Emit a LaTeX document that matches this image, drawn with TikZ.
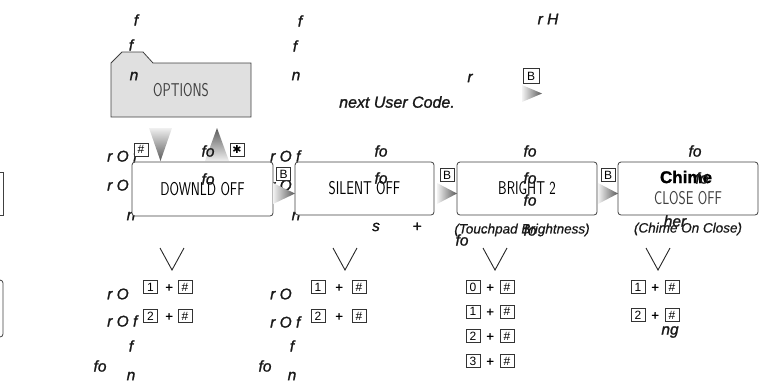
\documentclass[tikz,border=0pt]{standalone}
\usepackage{fontspec}
\setmainfont{Liberation Sans}
\newfontfamily\fragfont[FakeBold=1.3]{Liberation Sans}
\newfontfamily\notefont[FakeBold=0.6]{Liberation Sans}
\newfontfamily\symfont{DejaVu Sans}
\begin{document}
\begin{tikzpicture}[x=1pt,y=-1pt,
  frag/.style={font=\fragfont\itshape\fontsize{15.5}{15.5}\selectfont, inner sep=0pt, text=black!90},
  note/.style={font=\notefont\itshape\fontsize{13.5}{13.5}\selectfont, inner sep=0pt, text=black!90},
  lcdbox/.style={draw=black!75, fill=white, rounded corners=3pt, line width=0.8pt, minimum width=140pt, minimum height=53pt, inner sep=0pt},
  keybox/.style={draw=black!80, fill=white, line width=0.6pt, minimum width=14pt, minimum height=13pt, inner sep=0pt, font=\fontsize{12}{12}\selectfont},
  lcd/.style={inner sep=0pt, text=black!75},
  plus/.style={inner sep=0pt, font=\fragfont\itshape\fontsize{13}{13}\selectfont},
  chev/.style={line width=0.9pt, black!85}
]
\useasboundingbox (0,0) rectangle (760,384);
\newcommand{\lcdtext}[1]{\scalebox{0.74}[1]{\sffamily\fontsize{18.5}{18.5}\selectfont #1}}

% partial boxes at the left edge
\draw[black!75, line width=0.8pt] (-10,172) -- (3,172) -- (3,215) -- (-10,215);
\draw[black!75, line width=0.8pt, rounded corners=3pt] (-10,280) -- (3,280) -- (3,337) -- (-10,337);

% background fragments (behind boxes)
\node[frag] (f1) at (136,20) {f};
\node[frag] (c2f1) at (300,21) {f};
\node[frag] (c2f2) at (295,46) {f};
\node[frag] (c2n) at (296,76) {n};
\node[frag] (rr) at (470,78) {r};
\node[frag, font=\fragfont\itshape\fontsize{16}{16}\selectfont] (nuc) at (397,102) {next User Code.};
\node[frag] (rh) at (548,19) {r H};

\node[frag, anchor=west] (r1a) at (107,156) {r O f};
\node[frag, anchor=west] (r1b) at (107,185) {r O f};
\node[frag] (n1) at (131,216) {n};
\node[frag, anchor=west] (r2a) at (270,156) {r O f};
\node[frag, anchor=west] (r2b) at (270,185) {r O f};
\node[frag] (n2) at (296,216) {n};

% folder
\draw[fill=black!12, draw=black!75, line width=0.8pt] (111,63) -- (122,52) -- (143,52) -- (153,63) -- (251,63) -- (251,117) -- (111,117) -- cycle;
\node[lcd] (opt) at (181,90) {\lcdtext{OPTIONS}};
\node[frag] (f2) at (131,45) {f};
\node[frag] (nopt) at (134,76) {n};

% top right key and arrow
\node[keybox, minimum width=16pt, minimum height=15pt] (kbt) at (531,76) {B};
\shade[left color=black!5, right color=black!65] (522,85) -- (542,93.5) -- (522,102) -- cycle;

% arrows between options and downld
\shade[top color=black!6, bottom color=black!65] (149,128) -- (172,128) -- (160.5,161) -- cycle;
\shade[top color=black!65, bottom color=black!6] (217,128) -- (229,161) -- (205,161) -- cycle;

% boxes
\node[lcdbox, minimum width=141pt, minimum height=54pt] (dl) at (202.5,189) {\lcdtext{DOWNLD OFF}};
\node[lcdbox, minimum width=139pt] (si) at (364.5,188.5) {\lcdtext{SILENT OFF}};
\node[lcdbox] (br) at (527,188.5) {\lcdtext{BRIGHT 2}};
\node[lcdbox] (ch) at (688,188.5) {};
\node[inner sep=0pt, font=\fragfont\bfseries\fontsize{17}{17}\selectfont] (chime) at (686,177) {Chime};
\node[lcd] (cl) at (688,198) {\lcdtext{CLOSE OFF}};

% keys near top of downld
\node[keybox] (khash) at (141,149.5) {\#};
\node[keybox] (kstar) at (237,149.5) {\symfont\fontsize{11}{11}\selectfont ✱};
\node[frag] (fo1) at (208,151) {fo};

% right arrows and B keys between boxes
\shade[left color=black!5, right color=black!65] (273,183) -- (295,193.5) -- (273,204) -- cycle;
\node[keybox] (kb1) at (283.5,174) {B};
\shade[left color=black!5, right color=black!65] (437,183) -- (457,193.5) -- (437,204) -- cycle;
\node[keybox] (kb2) at (447,175) {B};
\shade[left color=black!5, right color=black!65] (598,183) -- (618,193.5) -- (598,204) -- cycle;
\node[keybox] (kb3) at (608,175) {B};

% overlay fragments
\node[frag] (fo2) at (208,179) {fo};
\node[frag] (fo3) at (381,151) {fo};
\node[frag] (fo4) at (381,178) {fo};
\node[frag] (fo5) at (530,151) {fo};
\node[frag] (fo6) at (530,178) {fo};
\node[frag] (fo7) at (530,200) {fo};
\node[frag] (fo8) at (695,151) {fo};
\node[frag] (fo9) at (702,178) {fo};

% captions
\node[frag] (s1) at (376,227) {s};
\node[frag] (p1) at (417,227) {+};
\node[note] (tb) at (522,230) {(Touchpad Brightness)};
\node[frag] (fo10) at (462,240) {fo};
\node[frag] (fo11) at (530,230) {fo};
\node[note] (cc) at (688,229) {(Chime On Close)};
\node[frag] (her) at (675,221) {her};

% chevrons
\draw[chev] (160,248) -- (172,270) -- (184,248);
\draw[chev] (333,248) -- (345,270) -- (357,248);
\draw[chev] (483,248) -- (495,270) -- (507,248);
\draw[chev] (646,248) -- (658,270) -- (670,248);

% column 1 keys
\node[frag, anchor=west] (c1r1) at (107,294) {r O};
\node[frag, anchor=west] (c1r2) at (107,321) {r O f};
\node[frag] (c1f) at (131,346) {f};
\node[frag] (c1fo) at (100,366) {fo};
\node[frag] (c1n) at (131,376) {n};
\node[keybox] (a1) at (150.5,287) {1};
\node[plus] (a1p) at (169,288) {+};
\node[keybox] (a1h) at (185,287) {\#};
\node[keybox] (a2) at (150.5,316) {2};
\node[plus] (a2p) at (169,317) {+};
\node[keybox] (a2h) at (185,316) {\#};

% column 2 keys
\node[frag, anchor=west] (c2r1) at (270,294) {r O};
\node[frag, anchor=west] (c2r2) at (270,322) {r O f};
\node[frag] (c2f) at (292,346) {f};
\node[frag] (c2fo) at (265,366) {fo};
\node[frag] (c2n) at (292,376) {n};
\node[keybox] (b1) at (318,287) {1};
\node[plus] (b1p) at (339,288) {+};
\node[keybox] (b1h) at (359,287) {\#};
\node[keybox] (b2) at (318,316) {2};
\node[plus] (b2p) at (339,317) {+};
\node[keybox] (b2h) at (359,316) {\#};

% column 3 keys
\node[keybox] (d0) at (473,287) {0};
\node[plus] (d0p) at (490,288) {+};
\node[keybox] (d0h) at (507,287) {\#};
\node[keybox] (d1) at (473,311.5) {1};
\node[plus] (d1p) at (490,312.5) {+};
\node[keybox] (d1h) at (507,311.5) {\#};
\node[keybox] (d2) at (473,336) {2};
\node[plus] (d2p) at (490,337) {+};
\node[keybox] (d2h) at (507,336) {\#};
\node[keybox] (d3) at (473,361) {3};
\node[plus] (d3p) at (490,362) {+};
\node[keybox] (d3h) at (507,361) {\#};

% column 4 keys
\node[keybox] (e1) at (638,287) {1};
\node[plus] (e1p) at (655,288) {+};
\node[keybox] (e1h) at (672,287) {\#};
\node[keybox] (e2) at (638,315) {2};
\node[plus] (e2p) at (655,316) {+};
\node[keybox] (e2h) at (672,315) {\#};
\node[frag] (ng) at (670,332) {ng};
\end{tikzpicture}
\end{document}
